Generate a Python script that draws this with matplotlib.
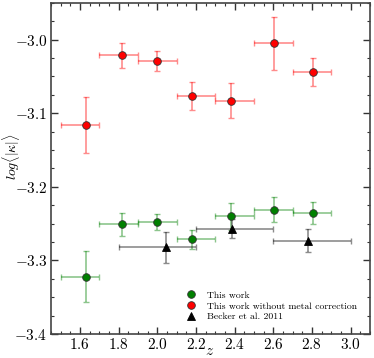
import matplotlib
matplotlib.use("Agg")
import matplotlib.pyplot as plt
from matplotlib.ticker import MultipleLocator

plt.rcParams['font.family'] = ['cmr10', 'DejaVu Serif']
plt.rcParams['mathtext.fontset'] = 'cm'
plt.rcParams['axes.formatter.use_mathtext'] = True
plt.rcParams['axes.unicode_minus'] = True

# This work
z_green = [1.631, 1.819, 2.0, 2.18, 2.383, 2.603, 2.805]
y_green = [-3.322, -3.251, -3.248, -3.271, -3.240, -3.231, -3.236]
yerr_green = [0.035, 0.016, 0.011, 0.013, 0.018, 0.017, 0.015]
zlo_green = [1.5, 1.7, 1.9, 2.1, 2.3, 2.5, 2.7]
zhi_green = [1.7, 1.9, 2.1, 2.3, 2.5, 2.7, 2.9]

# This work without metal correction
z_red = [1.631, 1.819, 2.0, 2.18, 2.383, 2.603, 2.805]
y_red = [-3.116, -3.021, -3.029, -3.076, -3.083, -3.005, -3.044]
yerr_red = [0.038, 0.017, 0.014, 0.019, 0.024, 0.036, 0.019]
zlo_red = [1.5, 1.7, 1.9, 2.1, 2.3, 2.5, 2.7]
zhi_red = [1.7, 1.9, 2.1, 2.3, 2.5, 2.7, 2.9]

# Becker et al. 2011
z_b = [2.044, 2.389, 2.78]
y_b = [-3.282, -3.257, -3.273]
yerr_b = [0.021, 0.013, 0.016]
zlo_b = [1.8, 2.2, 2.6]
zhi_b = [2.2, 2.6, 3.0]

fig = plt.figure(figsize=(3.74, 3.58), dpi=100)
ax = fig.add_axes([0.136, 0.067, 0.853, 0.925])

def plot_set(z, y, yerr, zlo, zhi, color, marker, label, ms):
    xerr = [[zi - lo for zi, lo in zip(z, zlo)], [hi - zi for zi, hi in zip(z, zhi)]]
    ax.errorbar(z, y, yerr=yerr, xerr=xerr, fmt='none', ecolor=color,
                alpha=0.45, capsize=2, elinewidth=1.2, capthick=1.0, zorder=2)
    ax.plot(z, y, linestyle='none', marker=marker, color=color, ms=ms,
            markeredgecolor='#333333' if color != 'black' else 'black',
            markeredgewidth=0.6, label=label, zorder=3)

plot_set(z_green, y_green, yerr_green, zlo_green, zhi_green, 'green', 'o', 'This work', 5.5)
plot_set(z_red, y_red, yerr_red, zlo_red, zhi_red, 'red', 'o', 'This work without metal correction', 5.5)
plot_set(z_b, y_b, yerr_b, zlo_b, zhi_b, 'black', '^', 'Becker et al. 2011', 5.5)

ax.set_xlim(1.45, 3.1)
ax.set_ylim(-3.4, -2.95)
ax.xaxis.set_major_locator(MultipleLocator(0.2))
ax.xaxis.set_minor_locator(MultipleLocator(0.05))
ax.yaxis.set_major_locator(MultipleLocator(0.1))
ax.yaxis.set_minor_locator(MultipleLocator(0.025))
ax.tick_params(which='both', direction='in', top=True, right=True, labelsize=11, color='#333333')
ax.tick_params(which='major', length=5, width=1, pad=2.5)
ax.tick_params(which='minor', length=2.5, width=0.8)
for s in ax.spines.values():
    s.set_linewidth(1.2)
    s.set_color('#444444')

ax.set_xlabel(r'$z$', fontsize=11)
ax.set_ylabel(r'$log\langle|\kappa|\rangle$', fontsize=10)
ax.xaxis.set_label_coords(0.498, -0.03)
ax.yaxis.set_label_coords(-0.092, 0.535)

ax.legend(loc='lower right', frameon=False, fontsize=7.0, handletextpad=0.9,
          borderaxespad=0.9, labelspacing=0.2, handlelength=1.5)

fig.savefig('out.png', dpi=100)
